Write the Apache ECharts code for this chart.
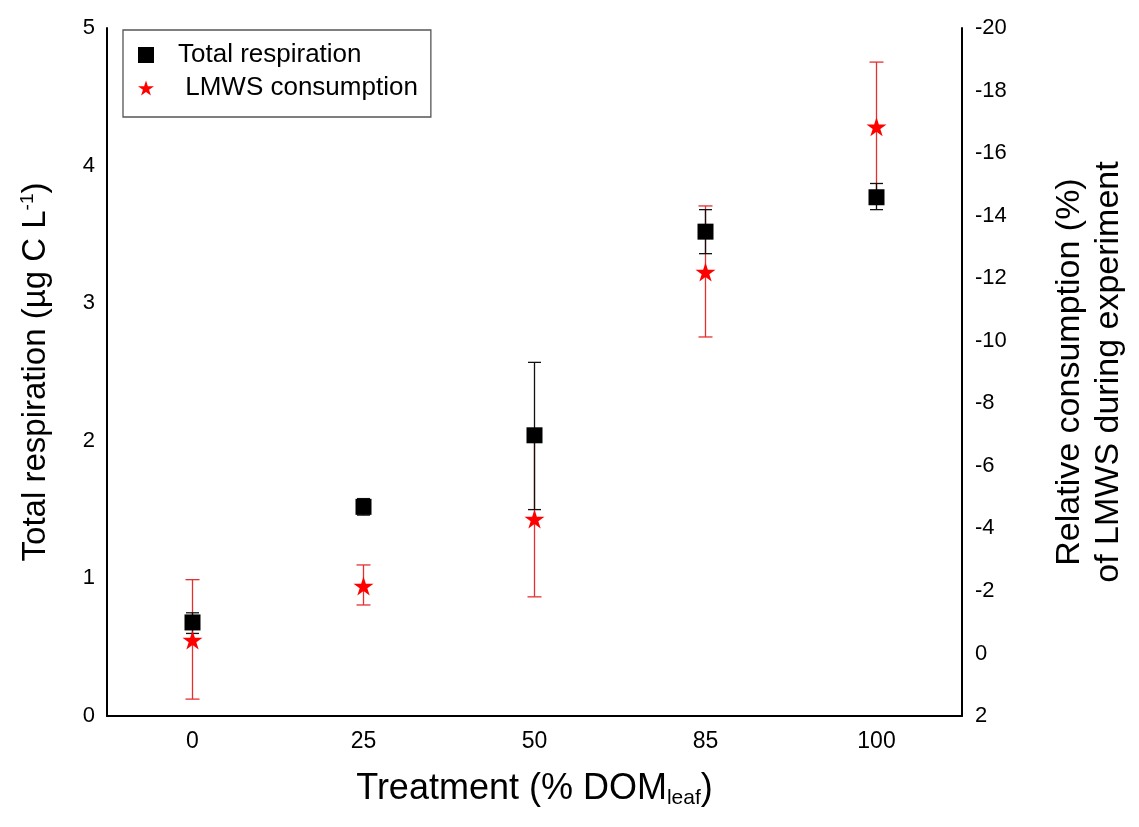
<!DOCTYPE html>
<html><head><meta charset="utf-8">
<script src="https://cdn.jsdelivr.net/npm/echarts@6/dist/echarts.min.js"></script>
<style>html,body{margin:0;padding:0;background:#fff}#c{width:1139px;height:827px}</style>
</head><body><div id="c"></div>
<script>
var categories = ['0', '25', '50', '85', '100'];
var respMean = [0.68, 1.52, 2.04, 3.52, 3.77];
var respLow  = [0.60, 1.46, 1.50, 3.36, 3.68];
var respHigh = [0.75, 1.58, 2.57, 3.68, 3.87];
var lmwsMean = [-0.43, -2.16, -4.30, -12.2, -16.84];
var lmwsLow  = [1.46, -1.55, -1.81, -10.12, -14.8];
var lmwsHigh = [-2.36, -2.83, -7.0, -14.31, -18.91];
var leftTicks = [0, 5, 1];
var rightTicks = [-20, 2, 2];

var starPath = 'path://M50,0L61.23,34.55L97.55,34.55L68.17,55.9L79.39,90.45L50,69.1L20.61,90.45L31.83,55.9L2.45,34.55L38.77,34.55Z';
var FONT = 'Liberation Sans, Arial, sans-serif';

function errData(lo, hi) { return categories.map(function (c, i) { return [i, lo[i], hi[i]]; }); }
function errRender(color, capW) {
  return function (params, api) {
    var x = api.value(0);
    var p1 = api.coord([x, api.value(1)]);
    var p2 = api.coord([x, api.value(2)]);
    var st = { stroke: color, lineWidth: 1.3 };
    return { type: 'group', children: [
      { type: 'line', shape: { x1: p1[0], y1: p1[1], x2: p2[0], y2: p2[1] }, style: st },
      { type: 'line', shape: { x1: p1[0] - capW, y1: p1[1], x2: p1[0] + capW, y2: p1[1] }, style: st },
      { type: 'line', shape: { x1: p2[0] - capW, y1: p2[1], x2: p2[0] + capW, y2: p2[1] }, style: st }
    ]};
  };
}

var chart = echarts.init(document.getElementById('c'));
chart.setOption({
  animation: false,
  textStyle: { fontFamily: FONT },
  grid: { left: 107, right: 177, top: 28, bottom: 111, containLabel: false },
  legend: {
    left: 123, top: 30, orient: 'vertical',
    borderColor: '#555', borderWidth: 1.3, padding: [12, 13, 16, 15],
    itemGap: 7, itemWidth: 16, itemHeight: 16,
    textStyle: { fontSize: 26, lineHeight: 26, color: '#000', fontFamily: FONT, padding: [0, 0, 0, 19] },
    data: [
      { name: 'Total respiration', icon: 'path://M0,0L10,0L10,10L0,10Z' },
      { name: ' LMWS consumption', icon: starPath }
    ]
  },
  xAxis: {
    type: 'category', data: categories, boundaryGap: true,
    axisLine: { lineStyle: { color: '#000', width: 2 } },
    axisTick: { show: false },
    axisLabel: { fontSize: 23, color: '#000', margin: 14 },
    name: '{a|Treatment (% DOM}{sub|leaf}{a|)}', nameLocation: 'middle', nameGap: 54,
    nameTextStyle: { rich: {
      a: { fontSize: 36, color: '#000', fontFamily: FONT },
      sub: { fontSize: 21, color: '#000', verticalAlign: 'bottom', padding: [18, 0, 0, 0], fontFamily: FONT }
    } }
  },
  yAxis: [
    {
      type: 'value', min: leftTicks[0], max: leftTicks[1], interval: leftTicks[2], position: 'left',
      axisLine: { show: true, lineStyle: { color: '#000', width: 2 } },
      axisTick: { show: false }, splitLine: { show: false },
      axisLabel: { fontSize: 22, color: '#000', margin: 12 },
      name: '{a|Total respiration (µg C L}{sup|-1}{a|)}', nameLocation: 'middle', nameGap: 54, nameRotate: 90,
      nameTextStyle: { rich: {
        a: { fontSize: 33, color: '#000', fontFamily: FONT },
        sup: { fontSize: 19, color: '#000', verticalAlign: 'top', padding: [0, 0, 16, 0], fontFamily: FONT }
      } }
    },
    {
      type: 'value', min: rightTicks[0], max: rightTicks[1], interval: rightTicks[2], inverse: true, position: 'right',
      axisLine: { show: true, lineStyle: { color: '#000', width: 2 } },
      axisTick: { show: false }, splitLine: { show: false },
      axisLabel: { fontSize: 22, color: '#000', margin: 13 },
      name: 'Relative consumption (%)\nof LMWS during experiment', nameLocation: 'middle', nameGap: 88, nameRotate: 90,
      nameTextStyle: { fontSize: 34, color: '#000', lineHeight: 39, fontFamily: FONT, verticalAlign: 'top' }
    }
  ],
  series: [
    { type: 'custom', name: 'lmwsErr', yAxisIndex: 1, z: 2, data: errData(lmwsLow, lmwsHigh), renderItem: errRender('#e63030', 7), silent: true },
    { type: 'custom', name: 'respErr', yAxisIndex: 0, z: 3, data: errData(respLow, respHigh), renderItem: errRender('#111', 6.5), silent: true },
    { type: 'scatter', name: 'Total respiration', yAxisIndex: 0, z: 4, symbol: 'rect', symbolSize: 16,
      itemStyle: { color: '#000', opacity: 1 }, data: respMean.map(function (v, i) { return [i, v]; }) },
    { type: 'scatter', name: ' LMWS consumption', yAxisIndex: 1, z: 5, symbol: starPath, symbolSize: [20, 19],
      itemStyle: { color: '#ff0000', opacity: 1 }, data: lmwsMean.map(function (v, i) { return [i, v]; }) }
  ]
});
</script></body></html>
